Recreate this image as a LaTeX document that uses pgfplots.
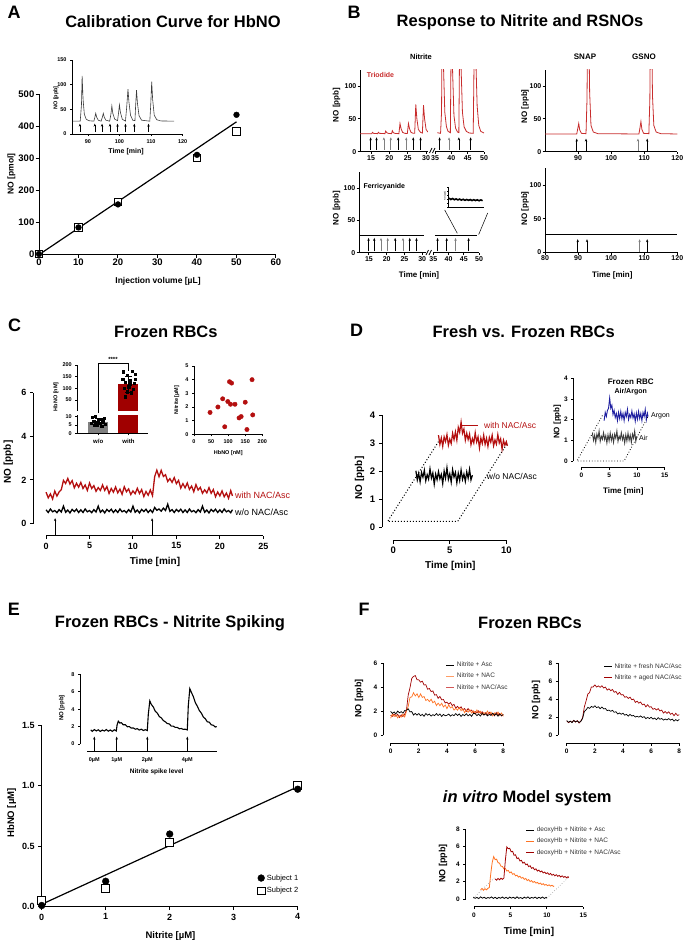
\documentclass[border=0pt]{standalone}
\usepackage{fontspec}
\setmainfont{Liberation Sans}
\usepackage{pgfplots}
\pgfplotsset{compat=1.18}
\usetikzlibrary{arrows.meta}
\definecolor{nred}{RGB}{180,15,15}
\definecolor{dred}{RGB}{160,0,0}
\definecolor{tred}{RGB}{200,45,45}
\definecolor{norange}{RGB}{255,115,35}
\definecolor{nblue}{RGB}{30,30,160}
\definecolor{ngray}{RGB}{60,60,60}
\definecolor{bargray}{RGB}{128,128,128}
\newcommand{\fs}[1]{\fontsize{#1}{#1}\selectfont}
\pgfplotsset{
 gp/.style={scale only axis, anchor=south west, axis lines*=left, separate axis lines,
   axis line style={line width=1pt,-}, tick style={line width=1pt,black},
   tick align=outside, major tick length=3.5pt, clip=false, scaled ticks=false,
   /pgf/number format/assume math mode=true,
   tick label style={font=\bfseries\fs{9}}, minor tick num=0},
 insetax/.style={axis line style={line width=0.6pt,-}, tick style={line width=0.6pt,black}, major tick length=2pt, tick label style={font=\bfseries\fs{5.5}}},
 offaxis/.style={axis line style={draw=none}},
 arr/.style={-{Stealth[length=3pt,width=2.4pt]}, line width=0.7pt, no markers},
}
\begin{document}
\begin{tikzpicture}
\path[use as bounding box] (0,0) rectangle (688pt,-943pt);

% ================= A =================
\node[font=\bfseries\fs{18}] at (14pt,-12pt) {A};
\node[font=\bfseries\fs{16.5}] at (173pt,-22pt) {Calibration Curve for HbNO};
\node[font=\bfseries\fs{8.5}, rotate=90] at (11.5pt,-174pt) {NO [pmol]};
\node[font=\bfseries\fs{8.5}] at (158pt,-281pt) {Injection volume [µL]};
\begin{axis}[gp, at={(39pt,-254pt)}, width=237pt, height=160pt, xmin=0,xmax=60,ymin=0,ymax=500,
  xtick={0,10,...,60}, ytick={0,100,...,500}, tick label style={font=\bfseries\fs{9.5}, inner sep=1pt}]
\addplot[black, line width=1.2pt] coordinates {(0,-2) (50,413)};
\addplot[only marks, mark=square*, mark size=3.6pt, mark options={fill=white, draw=black, line width=1pt}] coordinates {(0,0)(10,83)(20,162)(40,300)(50,383)};
\addplot[only marks, mark=*, mark size=2.9pt, black] coordinates {(0,0)(10,83)(20,155)(40,310)(50,435)};
\end{axis}
\node[font=\bfseries\fs{5.5}, rotate=90] at (56pt,-98pt) {NO [ppb]};
\node[font=\bfseries\fs{7}] at (126pt,-152pt) {Time [min]};
\begin{axis}[gp, insetax, at={(72pt,-134pt)}, width=110.7pt, height=74pt, xmin=85,xmax=120,ymin=0,ymax=150,
  xtick={90,100,110,120}, ytick={0,50,100,150}]
\addplot[ngray, line width=0.6pt] coordinates {(85.3,26) (87.6,26) (88.0,60) (88.2,118) (88.5,70) (88.9,40) (89.5,30) (90.3,27) (91.9,26) (92.2,33) (92.5,42) (92.8,34) (93.3,28) (94.2,26) (94.6,34) (94.9,42) (95.2,34) (95.7,28) (96.9,26) (97.3,40) (97.6,57) (97.9,42) (98.5,30) (99.4,27) (99.7,42) (100.0,59) (100.3,44) (100.9,30) (101.9,26) (102.3,55) (102.7,91) (103.0,65) (103.5,38) (104.2,28) (104.9,27) (105.1,55) (105.4,89) (105.7,62) (106.2,37) (107,28) (109.6,26) (109.9,60) (110.2,106) (110.5,70) (111,38) (111.8,29) (113,26.5) (117.3,26)};
\addplot[arr, line width=0.5pt, black, quiver={u=0,v=16}] coordinates {(87.5,5)(92.2,5)(94.5,5)(97.0,5)(99.4,5)(101.9,5)(104.7,5)(109.2,5)};
\end{axis}

% ================= B =================
\node[font=\bfseries\fs{18}] at (354pt,-12pt) {B};
\node[font=\bfseries\fs{16.5}] at (520pt,-22pt) {Response to Nitrite and RSNOs};
\node[font=\bfseries\fs{7.5}] at (421pt,-57pt) {Nitrite};
\node[font=\bfseries\fs{8}] at (585pt,-57pt) {SNAP};
\node[font=\bfseries\fs{8}] at (644pt,-57pt) {GSNO};
\node[font=\bfseries\fs{8}, rotate=90] at (336.5pt,-105pt) {NO [ppb]};
\node[font=\bfseries\fs{8}, rotate=90] at (336.5pt,-208pt) {NO [ppb]};
\node[font=\bfseries\fs{8}, rotate=90] at (525pt,-106.5pt) {NO [ppb]};
\node[font=\bfseries\fs{8}, rotate=90] at (525pt,-208.5pt) {NO [ppb]};
\node[font=\bfseries\fs{8}] at (419pt,-275pt) {Time [min]};
\node[font=\bfseries\fs{8}] at (612.3pt,-275pt) {Time [min]};
% top left, segment 1
\begin{axis}[gp, at={(360pt,-151.7pt)}, width=67.9pt, height=82pt, xmin=12,xmax=30.5,ymin=0,ymax=125,
  xtick={15,20,25,30}, ytick={0,50,100}, clip=true, tick label style={font=\bfseries\fs{7}, inner sep=1pt}, major tick length=2.5pt]
\addplot[tred, line width=0.8pt] coordinates {(12,27.5) (15.2,27.5) (15.4,29.5) (15.7,28) (16.8,27.5) (17.0,29.5) (17.3,28) (18.8,27.5) (19.0,31.5) (19.3,29) (19.8,27.8) (20.6,27.5) (20.8,32) (21.1,29) (21.6,27.8) (22.6,27.5) (22.9,43) (23.2,35) (23.6,29.5) (24.2,28) (24.9,27.8) (25.2,43) (25.5,35) (25.9,29.5) (26.5,28) (26.9,28) (27.2,72) (27.5,50) (27.9,34) (28.5,29.5) (29.0,28.5) (29.3,71) (29.6,50) (30.0,34) (30.5,30)};
\addplot[arr, black, quiver={u=0,v=19}] coordinates {(14.9,3)(16.5,3)(22.4,3)(26.5,3)(28.5,3)};
\addplot[arr, black!50, quiver={u=0,v=19}] coordinates {(18.5,3)(20.4,3)(24.6,3)};
\end{axis}
\begin{axis}[gp, at={(435pt,-151.7pt)}, width=49pt, height=82pt, xmin=35,xmax=50,ymin=0,ymax=125,
  xtick={35,40,45,50}, ytick=\empty, y axis line style={draw=none}, clip=true, tick label style={font=\bfseries\fs{7}, inner sep=1pt}, major tick length=2.5pt]
\addplot[tred, line width=0.8pt] coordinates {(35.7,29) (36.7,28) (37.0,60) (37.2,200) (37.6,130) (38.0,60) (38.5,38) (39.0,31) (39.7,29) (40.0,200) (40.4,120) (40.8,55) (41.3,36) (41.9,30) (42.3,29) (42.6,200) (43.0,125) (43.4,60) (43.9,38) (44.6,31) (45.5,28.5) (46.7,28) (47.1,200) (47.5,140) (47.9,70) (48.4,40) (49.0,31) (50,28.5)};
\addplot[arr, black, quiver={u=0,v=19}] coordinates {(36.4,3)(42.3,3)(45.9,3)};
\addplot[arr, black!50, quiver={u=0,v=19}] coordinates {(39.3,3)};
\end{axis}
\draw[line width=0.7pt] (429.5pt,-153pt)--(432pt,-148pt) (432.5pt,-153pt)--(435pt,-148pt);
\node[font=\bfseries\fs{7}, text=tred, anchor=west, inner sep=0] at (366.7pt,-75pt) {Triodide};
% bottom left
\begin{axis}[gp, at={(359pt,-252.7pt)}, width=66.7pt, height=80.5pt, xmin=12.2,xmax=31,ymin=0,ymax=125,
  xtick={15,20,25,30}, ytick={0,50,100}, tick label style={font=\bfseries\fs{7}, inner sep=1pt}, major tick length=2.5pt]
\addplot[black, line width=0.6pt] coordinates {(12.2,27) (30.5,27)};
\addplot[arr, black, quiver={u=0,v=21}] coordinates {(14.9,2)(16.5,2)(22.4,2)(26.5,2)(28.4,2)};
\addplot[arr, black!50, quiver={u=0,v=21}] coordinates {(18.4,2)(20.3,2)(24.6,2)};
\end{axis}
\begin{axis}[gp, at={(433.3pt,-252.7pt)}, width=45.7pt, height=80.5pt, xmin=35,xmax=50,ymin=0,ymax=125,
  xtick={35,40,45,50}, ytick=\empty, y axis line style={draw=none}, tick label style={font=\bfseries\fs{7}, inner sep=1pt}, major tick length=2.5pt]
\addplot[black, line width=0.6pt] coordinates {(35.5,27) (49.5,27)};
\addplot[arr, black, quiver={u=0,v=21}] coordinates {(36.4,2)(39.4,2)(46.6,2)};
\addplot[arr, black!50, quiver={u=0,v=21}] coordinates {(42.3,2)};
\end{axis}
\draw[line width=0.7pt] (426pt,-255pt)--(428.5pt,-250pt) (429pt,-255pt)--(431.5pt,-250pt);
\node[font=\bfseries\fs{7}, anchor=west, inner sep=0] at (363.3pt,-186.7pt) {Ferricyanide};
% mini inset
\begin{axis}[gp, at={(448pt,-206.7pt)}, width=35.3pt, height=20pt, xmin=0,xmax=10,ymin=0,ymax=10,
  axis line style={line width=0.4pt}, tick style={line width=0.3pt}, major tick length=1pt,
  xtick={0,2,4,6,8,10}, ytick={0,2,4,6,8,10}, xticklabels={}, yticklabels={}]
\addplot[black, line width=1.6pt] coordinates {(0.3,4.3)(0.8,3.6)(1.3,4.1)(1.8,3.5)(2.3,3.9)(2.8,3.4)(3.3,3.8)(3.8,3.3)(4.3,3.7)(4.8,3.2)(5.3,3.6)(5.8,3.2)(6.3,3.55)(6.8,3.1)(7.3,3.5)(7.8,3.1)(8.3,3.45)(8.8,3.0)(9.3,3.4)(9.8,3.0)};
\end{axis}
\node[font=\fs{2.2}, rotate=90] at (445pt,-196pt) {NO [ppb]};
\draw[line width=0.5pt] (457.3pt,-233.3pt)--(444.7pt,-210pt) (478.7pt,-234.5pt)--(487.7pt,-213pt);
% top right
\begin{axis}[gp, at={(545pt,-151.7pt)}, width=132.3pt, height=82pt, xmin=80,xmax=120,ymin=0,ymax=125,
  xtick={90,100,110,120}, ytick={0,50,100}, clip=true, tick label style={font=\bfseries\fs{7}, inner sep=1pt}, major tick length=2.5pt]
\addplot[tred, line width=0.8pt] coordinates {(80,27) (89.6,27) (89.9,35) (90.2,43) (90.5,33) (91,28) (92.4,27.5) (92.7,80) (92.9,200) (93.2,200) (93.5,90) (93.9,40) (94.6,30) (96,27.5) (108.4,27) (108.7,36) (109.0,46) (109.3,34) (109.8,28) (111.4,27.5) (111.7,80) (111.9,200) (112.2,200) (112.5,85) (112.9,40) (113.6,30) (115,27.5) (120,27)};
\addplot[arr, black, quiver={u=0,v=19}] coordinates {(89.6,1)(92.4,1)(110.9,1)};
\addplot[arr, black!50, quiver={u=0,v=19}] coordinates {(108.1,1)};
\end{axis}
% bottom right
\begin{axis}[gp, at={(545pt,-252.3pt)}, width=132.3pt, height=84.1pt, xmin=80,xmax=120,ymin=0,ymax=125,
  xtick={80,90,...,120}, ytick={0,50,100}, tick label style={font=\bfseries\fs{7}, inner sep=1pt}, major tick length=2.5pt]
\addplot[black, line width=0.6pt] coordinates {(80,27) (120,27)};
\addplot[arr, black, quiver={u=0,v=19}] coordinates {(89.9,0.5)(92.7,0.5)(110.9,0.5)};
\addplot[arr, black!50, quiver={u=0,v=19}] coordinates {(108.6,0.5)};
\end{axis}

% ================= C =================
\node[font=\bfseries\fs{18}] at (14.5pt,-325pt) {C};
\node[font=\bfseries\fs{16.5}] at (165.8pt,-331.7pt) {Frozen RBCs};
\node[font=\bfseries\fs{10}, rotate=90] at (8.3pt,-462pt) {NO [ppb]};
\node[font=\bfseries\fs{10}] at (155pt,-561.7pt) {Time [min]};
\begin{axis}[gp, offaxis, at={(33.3pt,-535.7pt)}, width=230pt, height=143pt, xmin=-1.47,xmax=25,ymin=-0.555,ymax=6,
  xtick={0,5,...,25}, ytick={0,2,4,6}]
\draw[line width=1pt] (axis cs:-1.47,0)--(axis cs:-1.47,6);
\draw[line width=1pt] (axis cs:0,-0.555)--(axis cs:25,-0.555);
\addplot[nred, line width=1.3pt] coordinates {(0,1.44)(0.25,1.18)(0.5,1.36)(0.75,1.13)(1,1.49)(1.25,1.26)(1.5,1.45)(1.75,1.55)(2,1.98)(2.25,1.84)(2.5,2.07)(2.75,1.81)(3,1.97)(3.25,1.64)(3.5,1.85)(3.75,1.67)(4,1.89)(4.25,1.61)(4.5,1.77)(4.75,1.52)(5,1.86)(5.25,1.61)(5.5,1.74)(5.75,1.48)(6,1.65)(6.25,1.52)(6.5,1.77)(6.75,1.52)(7,1.70)(7.25,1.38)(7.5,1.61)(7.75,1.44)(8,1.68)(8.25,1.41)(8.5,1.58)(8.75,1.34)(9,1.69)(9.25,1.46)(9.5,1.59)(9.75,1.33)(10,1.50)(10.25,1.37)(10.5,1.62)(10.75,1.38)(11,1.56)(11.25,1.24)(11.5,1.47)(11.75,1.30)(12,1.54)(12.25,1.28)(12.5,2.16)(12.75,2.45)(13,2.15)(13.25,2.44)(13.5,2.16)(13.75,2.24)(14,1.93)(14.25,2.06)(14.5,1.89)(14.75,2.11)(15,1.83)(15.25,1.98)(15.5,1.63)(15.75,1.83)(16,1.64)(16.25,1.86)(16.5,1.57)(16.75,1.72)(17,1.46)(17.25,1.79)(17.5,1.54)(17.75,1.66)(18,1.39)(18.25,1.55)(18.5,1.41)(18.75,1.65)(19,1.39)(19.25,1.56)(19.5,1.23)(19.75,1.45)(20,1.27)(20.25,1.50)(20.5,1.23)(20.75,1.40)(21,1.16)(21.25,1.51)(21.45,1.27)};
\addplot[black, line width=1.3pt] coordinates {(0,0.63)(0.25,0.51)(0.5,0.67)(0.75,0.54)(1,0.60)(1.25,0.50)(1.5,0.64)(1.75,0.53)(2,0.80)(2.25,0.52)(2.5,0.62)(2.75,0.49)(3,0.65)(3.25,0.55)(3.5,0.66)(3.75,0.51)(4,0.63)(4.25,0.51)(4.5,0.67)(4.75,0.54)(5,0.60)(5.25,0.50)(5.5,0.64)(5.75,0.53)(6,0.80)(6.25,0.52)(6.5,0.62)(6.75,0.49)(7,0.65)(7.25,0.55)(7.5,0.66)(7.75,0.51)(8,0.63)(8.25,0.51)(8.5,0.67)(8.75,0.54)(9,0.60)(9.25,0.50)(9.5,0.64)(9.75,0.53)(10,0.80)(10.25,0.52)(10.5,0.62)(10.75,0.49)(11,0.65)(11.25,0.55)(11.5,0.66)(11.75,0.51)(12,0.63)(12.25,0.51)(12.5,0.74)(12.75,0.61)(13,0.67)(13.25,0.57)(13.5,0.71)(13.75,0.60)(14,0.89)(14.25,0.56)(14.5,0.64)(14.75,0.51)(15,0.65)(15.25,0.55)(15.5,0.66)(15.75,0.51)(16,0.63)(16.25,0.51)(16.5,0.67)(16.75,0.54)(17,0.60)(17.25,0.50)(17.5,0.64)(17.75,0.53)(18,0.80)(18.25,0.52)(18.5,0.62)(18.75,0.49)(19,0.65)(19.25,0.55)(19.5,0.66)(19.75,0.51)(20,0.63)(20.25,0.51)(20.5,0.67)(20.75,0.54)(21,0.60)(21.25,0.50)(21.45,0.64)};
\addplot[arr, black, quiver={u=0,v=0.75}] coordinates {(1.04,-0.5)(12.2,-0.5)};
\end{axis}
\node[font=\fs{9}, text=nred, anchor=west, inner sep=0] at (235pt,-495pt) {with NAC/Asc};
\node[font=\fs{9}, anchor=west, inner sep=0] at (235pt,-512.3pt) {w/o NAC/Asc};
% bar inset (upper)
\begin{axis}[gp, insetax, at={(77.3pt,-410.5pt)}, width=71pt, height=45.5pt, xmin=0,xmax=2,ymin=5,ymax=200,
  ytick={50,100,150,200}, xtick=\empty, x axis line style={draw=none}, clip=true]
\addplot[ybar, bar width=20pt, fill=dred, draw=none] coordinates {(1.44,117)};
\addplot[draw=none, mark=none, error bars/.cd, y dir=both, y explicit, error bar style={line width=0.7pt,black}, error mark options={rotate=90, mark size=3.5pt, line width=0.7pt, black}] coordinates {(1.44,117) +- (0,36)};
\addplot[only marks, mark=square*, mark size=1.1pt, black] coordinates {(1.3,171)(1.55,175)(1.4,157)(1.62,160)(1.28,139)(1.5,133)(1.36,126)(1.6,121)(1.45,107)(1.32,100)(1.58,97)(1.4,86)(1.52,81)(1.35,64)(1.48,120)(1.62,138)};
\end{axis}
% bar inset (lower)
\begin{axis}[gp, insetax, at={(77.3pt,-433.3pt)}, width=71pt, height=18.3pt, xmin=0,xmax=2,ymin=0,ymax=11,
  ytick={0,5,10}, xtick={0.59,1.44}, xticklabels={w/o,with}, clip=true, xticklabel style={font=\bfseries\fs{6}}]
\addplot[ybar, bar width=20pt, fill=bargray, draw=none] coordinates {(0.59,7)};
\addplot[ybar, bar width=20pt, fill=dred, draw=none] coordinates {(1.44,117)};
\addplot[draw=none, mark=none, error bars/.cd, y dir=both, y explicit, error bar style={line width=0.7pt,black}, error mark options={rotate=90, mark size=3.5pt, line width=0.7pt, black}] coordinates {(0.59,7) +- (0,1.8)};
\addplot[only marks, mark=square*, mark size=1.1pt, black] coordinates {(0.42,9.5)(0.5,10.2)(0.66,8.4)(0.75,9.2)(0.46,7.2)(0.58,7.8)(0.7,6.8)(0.4,6.1)(0.52,6.5)(0.63,5.9)(0.78,5.4)(0.47,4.8)(0.69,4.2)(0.56,5.2)(0.74,7.5)};
\end{axis}
\node[font=\bfseries\fs{5.5}, rotate=90] at (56pt,-396.7pt) {HbNO [nM]};
\node[font=\bfseries\fs{6}] at (113pt,-359pt) {****};
\draw[line width=0.6pt] (98.3pt,-413pt)--(98.3pt,-363.3pt)--(128.3pt,-363.3pt)--(128.3pt,-370.5pt);
% scatter inset
\begin{axis}[gp, insetax, at={(194pt,-434.3pt)}, width=68.3pt, height=68.3pt, xmin=0,xmax=200,ymin=0,ymax=5,
  xtick={0,50,...,200}, ytick={0,1,...,5}]
\addplot[only marks, mark=*, mark size=2.2pt, color=nred] coordinates {(47,1.6)(70,2.0)(84,2.6)(99,2.4)(104,3.85)(110,3.75)(107,2.2)(120,2.2)(90,0.55)(132,1.2)(138,1.3)(150,2.35)(155,0.35)(170,4.0)(172,1.42)};
\end{axis}
\node[font=\bfseries\fs{5.5}, rotate=90] at (176.7pt,-400pt) {Nitrite [µM]};
\node[font=\bfseries\fs{5.5}] at (228.3pt,-453.3pt) {HbNO [nM]};

% ================= D =================
\node[font=\bfseries\fs{18}] at (356.5pt,-330pt) {D};
\node[font=\bfseries\fs{16.5}] at (523.7pt,-331.7pt) {Fresh vs. Frozen RBCs};
\node[font=\bfseries\fs{10}, rotate=90] at (359.5pt,-478pt) {NO [ppb]};
\node[font=\bfseries\fs{10}] at (450.3pt,-566pt) {Time [min]};
\begin{axis}[gp, offaxis, at={(382.3pt,-540pt)}, width=124pt, height=125pt, xmin=-0.97,xmax=10,ymin=-0.464,ymax=4,
  xtick={0,5,10}, ytick={0,1,2,3,4}, tick label style={font=\bfseries\fs{9.5}}]
\draw[line width=1pt] (axis cs:-0.97,0)--(axis cs:-0.97,4);
\draw[line width=1pt] (axis cs:0,-0.464)--(axis cs:10,-0.464);
\addplot[black, dotted, line width=1pt] coordinates {(4.0,3.05) (-0.5,0.2) (5.7,0.2) (10.1,3.0)};
\addplot[black, line width=1.2pt] coordinates {(2,2.01)(2.125,1.68)(2.25,1.91)(2.375,1.61)(2.5,1.95)(2.625,1.78)(2.75,2.03)(2.875,1.65)(3,1.87)(3.125,1.71)(3.25,2.08)(3.375,1.75)(3.5,1.93)(3.625,1.53)(3.75,1.89)(3.875,1.69)(4,1.98)(4.125,1.72)(4.25,1.88)(4.375,1.55)(4.5,2.0)(4.625,1.74)(4.75,2.12)(4.875,1.7)(5,1.9)(5.125,1.6)(5.25,2.05)(5.375,1.78)(5.5,1.95)(5.625,1.58)(5.75,1.92)(5.875,1.66)(6,2.04)(6.125,1.7)(6.25,1.89)(6.375,1.63)(6.5,1.97)(6.625,1.74)(6.75,2.06)(6.875,1.68)(7,1.85)};
\addplot[nred, line width=1.2pt] coordinates {(4,3.28)(4.125,2.95)(4.25,3.18)(4.375,2.88)(4.5,3.22)(4.625,3.05)(4.75,3.30)(4.875,2.92)(5,3.14)(5.125,2.98)(5.25,3.35)(5.375,3.12)(5.5,3.4)(5.625,3.1)(5.75,3.56)(5.875,3.38)(6,3.75)(6.125,3.35)(6.25,3.5)(6.375,3.1)(6.5,3.35)(6.625,3.12)(6.75,3.32)(6.875,2.94)(7,3.16)(7.125,3.0)(7.25,3.37)(7.375,3.04)(7.5,3.22)(7.625,2.82)(7.75,3.18)(7.875,2.98)(8,3.28)(8.125,2.95)(8.25,3.17)(8.375,2.88)(8.5,3.2)(8.625,3.03)(8.75,3.28)(8.875,2.9)(9,3.11)(9.125,2.96)(9.25,3.3)(9.375,3.0)(9.5,3.15)(9.625,2.78)(9.75,3.1)(9.875,2.92)(10,3.05)(10.1,2.9)};
\end{axis}
\draw[nred, line width=0.7pt] (462.3pt,-425.7pt)--(478pt,-425.7pt);
\node[font=\fs{8.5}, text=nred, anchor=west, inner sep=0] at (484pt,-425.7pt) {with NAC/Asc};
\node[font=\fs{8.5}, anchor=west, inner sep=0] at (486.7pt,-476.7pt) {w/o NAC/Asc};
% D inset
\node[font=\bfseries\fs{8}] at (630.7pt,-381.7pt) {Frozen RBC};
\node[font=\bfseries\fs{7}] at (630.7pt,-391.7pt) {Air/Argon};
\node[font=\bfseries\fs{8}, rotate=90] at (557.3pt,-421.7pt) {NO [ppb]};
\node[font=\bfseries\fs{8}] at (623.3pt,-491.7pt) {Time [min]};
\begin{axis}[gp, offaxis, insetax, at={(573.3pt,-467.7pt)}, width=91.4pt, height=89.4pt, xmin=-1.44,xmax=15,ymin=-0.324,ymax=4,
  xtick={0,5,10,15}, ytick={0,1,2,3,4}, tick label style={font=\bfseries\fs{6.5}}]
\draw[line width=0.7pt] (axis cs:-1.44,0)--(axis cs:-1.44,4);
\draw[line width=0.7pt] (axis cs:0,-0.324)--(axis cs:15,-0.324);
\addplot[black, dotted, line width=0.8pt] coordinates {(3.8,2.2) (-0.8,0) (7.7,0) (12.1,2.2)};
\addplot[ngray, line width=0.9pt] coordinates {(2.0,1.35)(2.2,1.00)(2.4,1.25)(2.6,0.90)(2.8,1.30)(3.0,1.10)(3.2,1.45)(3.4,0.95)(3.6,1.20)(3.8,1.05)(4.0,1.37)(4.2,1.03)(4.4,1.23)(4.6,0.87)(4.8,1.27)(5.0,0.97)(5.2,1.35)(5.4,1.00)(5.6,1.25)(5.8,0.90)(6.0,1.30)(6.2,1.10)(6.4,1.45)(6.6,0.95)(6.8,1.20)(7.0,1.05)(7.2,1.37)(7.4,1.03)(7.6,1.23)(7.8,0.87)(8.0,1.27)(8.2,0.97)(8.4,1.35)(8.6,1.00)(8.8,1.25)(9.0,0.90)(9.2,1.30)(9.4,1.10)(9.6,1.45)(9.8,0.95)(10.0,1.20)};
\addplot[nblue, line width=0.9pt] coordinates {(4.1,1.95)(4.3,2.35)(4.5,2.15)(4.7,2.45)(4.9,2.55)(5.1,3.05)(5.3,2.55)(5.5,2.7)(5.7,2.25)(5.9,2.45)(6.1,2.1)(6.3,2.3)(6.5,1.95)(6.7,2.35)(6.9,2.05)(7.1,2.4)(7.3,2.05)(7.5,2.3)(7.7,1.95)(7.9,2.35)(8.1,2.15)(8.3,2.5)(8.5,2.0)(8.7,2.25)(8.9,2.1)(9.1,2.42)(9.3,2.08)(9.5,2.28)(9.7,1.92)(9.9,2.32)(10.1,2.02)(10.3,2.4)(10.5,2.05)(10.7,2.3)(10.9,1.95)(11.1,2.35)(11.3,2.15)(11.5,2.5)(11.7,2.0)(11.9,2.3)(12.0,2.15)};
\end{axis}
\node[font=\fs{7}, anchor=west, inner sep=0] at (651pt,-416pt) {Argon};
\node[font=\fs{7}, anchor=west, inner sep=0] at (639pt,-438.3pt) {Air};

% ================= E =================
\node[font=\bfseries\fs{18}] at (14pt,-609pt) {E};
\node[font=\bfseries\fs{16.5}] at (170pt,-623.3pt) {Frozen RBCs - Nitrite Spiking};
\node[font=\bfseries\fs{9.5}, rotate=90] at (11.7pt,-813pt) {HbNO [µM]};
\node[font=\bfseries\fs{9.5}] at (170.5pt,-936pt) {Nitrite [µM]};
\begin{axis}[gp, at={(41.7pt,-906.7pt)}, width=256pt, height=181.7pt, xmin=0,xmax=4,ymin=0,ymax=1.5,
  xtick={0,1,2,3,4}, ytick={0,0.5,1,1.5}, yticklabels={0.0,0.5,1.0,1.5},
  legend style={at={(0.83,0.2)}, anchor=north west, draw=none, fill=none, font=\fs{7.5}, row sep=2pt, cells={anchor=west}}]
\addlegendimage{only marks, mark=*, mark size=3.4pt, black}
\addlegendentry{Subject 1}
\addlegendimage{only marks, mark=square*, mark size=3.8pt, mark options={fill=white, draw=black, line width=0.9pt}}
\addlegendentry{Subject 2}
\addplot[black, line width=1.2pt, forget plot] coordinates {(0,0.02) (4,0.99)};
\addplot[only marks, mark=square*, mark size=3.8pt, mark options={fill=white, draw=black, line width=0.9pt}, forget plot] coordinates {(0,0.05)(1,0.15)(2,0.53)(4,1.0)};
\addplot[only marks, mark=*, mark size=3.4pt, black, forget plot] coordinates {(0,0.01)(1,0.21)(2,0.6)(4,0.97)};
\end{axis}
\node[font=\bfseries\fs{6}, rotate=90] at (61.7pt,-708pt) {NO [ppb]};
\node[font=\bfseries\fs{6.5}] at (156.7pt,-771.7pt) {Nitrite spike level};
\begin{axis}[gp, offaxis, insetax, at={(80pt,-751.7pt)}, width=136.7pt, height=77.4pt, xmin=-7.3,xmax=129.4,ymin=-0.885,ymax=8,
  xtick={7,29.4,60,100}, xticklabels={0µM,1µM,2µM,4µM}, xtick style={draw=none}, ytick={0,2,4,6,8}]
\draw[line width=0.6pt] (axis cs:-7.3,0)--(axis cs:-7.3,8);
\draw[line width=0.6pt] (axis cs:0,-0.885)--(axis cs:129.4,-0.885);
\addplot[black, line width=1.1pt] coordinates {(3.4,1.62)(5,1.45)(7,1.66)(9,1.5)(11,1.63)(13,1.44)(15,1.6)(17,1.49)(19,1.66)(21,1.47)(23,1.61)(25,1.45)(27,1.63)(29,1.5)(29.8,2.2)(31,2.62)(32.5,2.4)(34,2.45)(36,2.2)(38,2.22)(40,1.98)(42,2.0)(44,1.82)(46,1.85)(48,1.7)(50,1.76)(52,1.6)(54,1.7)(56,1.55)(58,1.64)(60,1.55)(61,3.4)(62.5,4.95)(64,4.55)(66,4.25)(68,3.75)(70,3.55)(72,3.15)(74,3.0)(76,2.7)(78,2.55)(80,2.35)(82,2.3)(84,2.05)(86,2.05)(88,1.9)(90,1.9)(92,1.75)(94,1.78)(96,1.68)(98,1.7)(100,1.62)(101,4.4)(102.5,6.35)(104,5.95)(106,5.45)(108,4.75)(110,4.35)(112,3.85)(114,3.55)(116,3.1)(118,2.9)(120,2.55)(122,2.5)(124,2.2)(126,2.15)(128,1.95)(129.4,2.0)};
\addplot[arr, line width=0.5pt, black, quiver={u=0,v=1.6}] coordinates {(7,-0.75)(29.4,-0.75)(60,-0.75)(100,-0.75)};
\end{axis}

% ================= F =================
\node[font=\bfseries\fs{18}] at (364pt,-609pt) {F};
\node[font=\bfseries\fs{16.5}] at (530pt,-623.3pt) {Frozen RBCs};
\node[font=\bfseries\fs{16.5}] at (527.3pt,-798.3pt) {\textit{in vitro} Model system};
\node[font=\bfseries\fs{9}, rotate=90] at (359pt,-698.3pt) {NO [ppb]};
\node[font=\bfseries\fs{9}, rotate=90] at (536pt,-700pt) {NO [ppb]};
\node[font=\bfseries\fs{9}, rotate=90] at (443pt,-863.3pt) {NO [ppb]};
\node[font=\bfseries\fs{10}] at (529pt,-931.7pt) {Time [min]};
% F1
\begin{axis}[gp, offaxis, at={(383.3pt,-743.3pt)}, width=120pt, height=80pt, xmin=-0.52,xmax=8,ymin=-0.667,ymax=6,
  xtick={0,2,4,6,8}, ytick={0,2,4,6}, tick label style={font=\bfseries\fs{6.5}}, major tick length=2.5pt, tick style={line width=0.8pt},
  legend style={at={(0.52,1.045)}, anchor=north west, draw=none, fill=none, font=\fs{6.5}, text=black!80, row sep=1pt, inner sep=0pt, cells={anchor=west}},
  legend image code/.code={\draw[#1, line width=1pt] (0pt,0pt)--(8pt,0pt);}]
\draw[line width=0.8pt] (axis cs:-0.52,0)--(axis cs:-0.52,6);
\draw[line width=0.8pt] (axis cs:0,-0.667)--(axis cs:8,-0.667);
\addlegendimage{black}\addlegendentry{Nitrite + Asc}
\addlegendimage{norange!70}\addlegendentry{Nitrite + NAC}
\addlegendimage{tred!80}\addlegendentry{Nitrite + NAC/Asc}
\addplot[dred, line width=0.7pt, forget plot] coordinates {(0,1.67)(0.125,1.58)(0.25,1.78)(0.375,1.59)(0.5,1.75)(0.625,1.49)(0.75,1.70)(0.875,1.57)(1,1.77)(1.125,2.10)(1.25,3.36)(1.375,3.96)(1.5,4.74)(1.625,4.91)(1.75,4.98)(1.875,4.63)(2,4.62)(2.125,4.43)(2.25,4.51)(2.375,4.19)(2.5,4.22)(2.625,3.84)(2.75,3.90)(2.875,3.64)(3,3.70)(3.125,3.35)(3.25,3.39)(3.375,3.08)(3.5,3.24)(3.625,2.96)(3.75,2.98)(3.875,2.70)(4,2.76)(4.125,2.60)(4.25,2.73)(4.375,2.48)(4.5,2.58)(4.625,2.26)(4.75,2.41)(4.875,2.23)(5,2.38)(5.125,2.11)(5.25,2.23)(5.375,1.99)(5.5,2.23)(5.625,2.01)(5.75,2.10)(5.875,1.87)(6,1.98)(6.125,1.86)(6.25,2.04)(6.375,1.83)(6.5,1.97)(6.625,1.69)(6.75,1.88)(6.875,1.73)(7,1.92)(7.125,1.70)(7.25,1.84)(7.375,1.63)(7.5,1.90)(7.625,1.72)(7.75,1.82)(7.875,1.61)(8,1.74)};
\addplot[norange, line width=0.7pt, forget plot] coordinates {(0,1.42)(0.125,1.78)(0.25,1.56)(0.375,1.71)(0.5,1.45)(0.625,1.63)(0.75,1.51)(0.875,1.77)(1,1.53)(1.125,2.02)(1.25,2.41)(1.375,3.16)(1.5,3.20)(1.625,3.55)(1.75,3.28)(1.875,3.46)(2,3.15)(2.125,3.45)(2.25,3.16)(2.375,3.23)(2.5,2.90)(2.625,3.00)(2.75,2.81)(2.875,3.01)(3,2.71)(3.125,2.84)(3.25,2.48)(3.375,2.68)(3.5,2.47)(3.625,2.67)(3.75,2.36)(3.875,2.52)(4,2.22)(4.125,2.54)(4.25,2.28)(4.375,2.39)(4.5,2.10)(4.625,2.24)(4.75,2.09)(4.875,2.32)(5,2.05)(5.125,2.22)(5.25,1.88)(5.375,2.11)(5.5,1.92)(5.625,2.15)(5.75,1.86)(5.875,2.04)(6,1.76)(6.125,2.11)(6.25,1.87)(6.375,2.01)(6.5,1.73)(6.625,1.90)(6.75,1.77)(6.875,2.02)(7,1.76)(7.125,1.94)(7.25,1.62)(7.375,1.87)(7.5,1.70)(7.625,1.94)(7.75,1.66)(7.875,1.86)(8,1.59)};
\addplot[black, line width=0.7pt, forget plot] coordinates {(0,2.00)(0.125,1.82)(0.25,1.95)(0.375,1.78)(0.5,2.02)(0.625,1.87)(0.75,1.97)(0.875,1.85)(1,2.07)(1.125,2.09)(1.25,2.21)(1.375,1.95)(1.5,1.98)(1.625,1.69)(1.75,1.82)(1.875,1.68)(2,1.82)(2.125,1.63)(2.25,1.75)(2.375,1.58)(2.5,1.82)(2.625,1.67)(2.75,1.77)(2.875,1.60)(3,1.72)(3.125,1.64)(3.25,1.81)(3.375,1.65)(3.5,1.78)(3.625,1.57)(3.75,1.74)(3.875,1.63)(4,1.67)(4.125,1.77)(4.25,1.60)(4.375,1.72)(4.5,1.64)(4.625,1.81)(4.75,1.65)(4.875,1.78)(5,1.57)(5.125,1.74)(5.25,1.63)(5.375,1.80)(5.5,1.62)(5.625,1.75)(5.75,1.58)(5.875,1.82)(6,1.82)(6.125,1.64)(6.25,1.77)(6.375,1.60)(6.5,1.84)(6.625,1.69)(6.75,1.79)(6.875,1.62)(7,1.74)(7.125,1.66)(7.25,1.83)(7.375,1.67)(7.5,1.80)(7.625,1.59)(7.75,1.76)(7.875,1.65)(8,1.72)};
\end{axis}
% F2
\begin{axis}[gp, offaxis, at={(558.3pt,-743.3pt)}, width=121pt, height=80pt, xmin=-0.6,xmax=8,ymin=-0.93,ymax=8,
  xtick={0,2,4,6,8}, ytick={0,2,4,6,8}, tick label style={font=\bfseries\fs{6.5}}, major tick length=2.5pt, tick style={line width=0.8pt},
  legend style={at={(0.372,1.025)}, anchor=north west, draw=none, fill=none, font=\fs{6.5}, text=black!80, row sep=1pt, inner sep=0pt, cells={anchor=west}},
  legend image code/.code={\draw[#1, line width=1pt] (0pt,0pt)--(8pt,0pt);}]
\draw[line width=0.8pt] (axis cs:-0.6,0)--(axis cs:-0.6,8);
\draw[line width=0.8pt] (axis cs:0,-0.93)--(axis cs:8,-0.93);
\addlegendimage{black}\addlegendentry{Nitrite + fresh NAC/Asc}
\addlegendimage{dred}\addlegendentry{Nitrite + aged NAC/Asc}
\addplot[dred, line width=0.7pt, forget plot] coordinates {(0,1.59)(0.125,1.37)(0.25,1.53)(0.375,1.42)(0.5,1.64)(0.625,1.44)(0.75,1.60)(0.875,1.33)(1,1.55)(1.125,1.91)(1.25,3.13)(1.375,3.80)(1.5,4.57)(1.625,4.74)(1.75,5.36)(1.875,5.36)(2,5.59)(2.125,5.35)(2.25,5.48)(2.375,5.32)(2.5,5.49)(2.625,5.24)(2.75,5.35)(2.875,5.01)(3,5.15)(3.125,4.94)(3.25,5.08)(3.375,4.77)(3.5,4.85)(3.625,4.53)(3.75,4.76)(3.875,4.47)(4,4.51)(4.125,4.21)(4.25,4.28)(4.375,4.08)(4.5,4.22)(4.625,3.93)(4.75,4.00)(4.875,3.64)(5,3.77)(5.125,3.55)(5.25,3.68)(5.375,3.37)(5.5,3.45)(5.625,3.14)(5.75,3.38)(5.875,3.11)(6,3.16)(6.125,2.87)(6.25,2.96)(6.375,2.79)(6.5,2.94)(6.625,2.68)(6.75,2.78)(6.875,2.45)(7,2.62)(7.125,2.42)(7.25,2.59)(7.375,2.31)(7.5,2.43)(7.625,2.15)(7.75,2.42)(7.875,2.18)(8,2.26)};
\addplot[black, line width=0.7pt, forget plot] coordinates {(0,1.60)(0.125,1.42)(0.25,1.55)(0.375,1.38)(0.5,1.62)(0.625,1.47)(0.75,1.57)(0.875,1.40)(1,1.52)(1.125,1.84)(1.25,2.61)(1.375,2.80)(1.5,3.08)(1.625,2.97)(1.75,3.19)(1.875,3.08)(2,3.25)(2.125,3.05)(2.25,3.15)(2.375,2.93)(2.5,3.12)(2.625,2.91)(2.75,2.95)(2.875,2.72)(3,2.78)(3.125,2.64)(3.25,2.75)(3.375,2.53)(3.5,2.60)(3.625,2.34)(3.75,2.46)(3.875,2.31)(4,2.43)(4.125,2.21)(4.25,2.30)(4.375,2.10)(4.5,2.30)(4.625,2.12)(4.75,2.19)(4.875,2.00)(5,2.09)(5.125,1.99)(5.25,2.13)(5.375,1.95)(5.5,2.05)(5.625,1.82)(5.75,1.96)(5.875,1.83)(6,1.98)(6.125,1.78)(6.25,1.88)(6.375,1.71)(6.5,1.93)(6.625,1.76)(6.75,1.84)(6.875,1.66)(7,1.77)(7.125,1.68)(7.25,1.83)(7.375,1.66)(7.5,1.77)(7.625,1.55)(7.75,1.71)(7.875,1.58)(8,1.74)};
\end{axis}
% F3
\begin{axis}[gp, offaxis, at={(465.7pt,-906.7pt)}, width=117.6pt, height=77.7pt, xmin=-1.14,xmax=15,ymin=-0.88,ymax=8,
  xtick={0,5,10,15}, ytick={0,2,4,6,8}, tick label style={font=\bfseries\fs{6.5}}, major tick length=2.5pt, tick style={line width=0.8pt},
  legend style={at={(0.51,1.055)}, anchor=north west, draw=none, fill=none, font=\fs{6.5}, text=black!80, row sep=1pt, inner sep=0pt, cells={anchor=west}},
  legend image code/.code={\draw[#1, line width=1pt] (0pt,0pt)--(8pt,0pt);}]
\draw[line width=0.8pt] (axis cs:-1.14,0)--(axis cs:-1.14,8);
\draw[line width=0.8pt] (axis cs:0,-0.88)--(axis cs:15,-0.88);
\addlegendimage{black}\addlegendentry{deoxyHb + Nitrite + Asc}
\addlegendimage{norange}\addlegendentry{deoxyHb + Nitrite + NAC}
\addlegendimage{dred}\addlegendentry{deoxyHb + Nitrite + NAC/Asc}
\addplot[black!45, dotted, line width=0.6pt, forget plot] coordinates {(-0.1,0.1) (2.9,2.5)};
\addplot[black!45, dotted, line width=0.6pt, forget plot] coordinates {(10,0.1) (13,2.5)};
\addplot[black, line width=0.8pt, forget plot] coordinates {(-0.1,0.22)(0.15,0.08)(0.4,0.18)(0.65,0.05)(0.9,0.25)(1.15,0.1)(1.4,0.2)(1.65,0.06)(1.9,0.17)(2.15,0.1)(2.4,0.24)(2.65,0.07)(2.9,0.2)(3.15,0.04)(3.4,0.18)(3.65,0.09)(3.9,0.23)(4.15,0.07)(4.4,0.19)(4.65,0.05)(4.9,0.22)(5.15,0.1)(5.4,0.2)(5.65,0.06)(5.9,0.25)(6.15,0.08)(6.4,0.17)(6.65,0.05)(6.9,0.21)(7.15,0.09)(7.4,0.24)(7.65,0.06)(7.9,0.18)(8.15,0.1)(8.4,0.22)(8.65,0.05)(8.9,0.2)(9.15,0.08)(9.4,0.23)(9.65,0.07)(9.9,0.19)(10.0,0.1)};
\addplot[norange, line width=0.8pt, forget plot] coordinates {(0.9,1.05)(1.1,1.2)(1.3,1.0)(1.5,1.18)(1.7,1.05)(1.9,1.22)(2.1,1.3)(2.3,2.9)(2.5,4.2)(2.7,4.85)(2.9,4.5)(3.1,4.55)(3.3,4.15)(3.5,4.1)(3.7,3.75)(3.9,3.72)(4.1,3.45)(4.3,3.5)(4.5,3.2)(4.7,3.27)(4.9,3.0)(5.1,3.1)(5.3,2.82)(5.5,2.9)(5.7,2.65)(5.9,2.72)(6.1,2.5)(6.3,2.6)(6.5,2.38)(6.7,2.47)(6.9,2.25)(7.1,2.35)(7.3,2.1)(7.5,2.22)(7.7,2.0)(7.9,2.1)(8.1,1.9)(8.3,2.0)(8.5,1.82)(8.7,1.9)(8.9,1.72)(9.1,1.82)(9.3,1.65)(9.5,1.75)(9.7,1.58)(9.9,1.66)(10.1,1.52)(10.3,1.62)(10.5,1.48)(10.7,1.57)(10.9,1.44)(11.0,1.5)};
\addplot[dred, line width=0.8pt, forget plot] coordinates {(2.9,2.3)(3.1,2.15)(3.3,2.35)(3.5,2.2)(3.7,2.38)(3.9,2.25)(4.1,2.4)(4.3,4.4)(4.5,5.95)(4.7,5.75)(4.9,5.8)(5.1,5.4)(5.3,5.45)(5.5,5.0)(5.7,5.05)(5.9,4.62)(6.1,4.7)(6.3,4.35)(6.5,4.42)(6.7,4.1)(6.9,4.2)(7.1,3.92)(7.3,4.0)(7.5,3.7)(7.7,3.8)(7.9,3.5)(8.1,3.6)(8.3,3.35)(8.5,3.45)(8.7,3.2)(8.9,3.3)(9.1,3.1)(9.3,3.2)(9.5,2.98)(9.7,3.08)(9.9,2.9)(10.1,3.0)(10.3,2.8)(10.5,2.92)(10.7,2.72)(10.9,2.82)(11.1,2.65)(11.3,2.78)(11.5,2.6)(11.7,2.7)(11.9,2.52)(12.1,2.65)(12.3,2.48)(12.5,2.58)(12.7,2.42)(12.9,2.55)(13.0,2.45)};
\end{axis}
\end{tikzpicture}
\end{document}
